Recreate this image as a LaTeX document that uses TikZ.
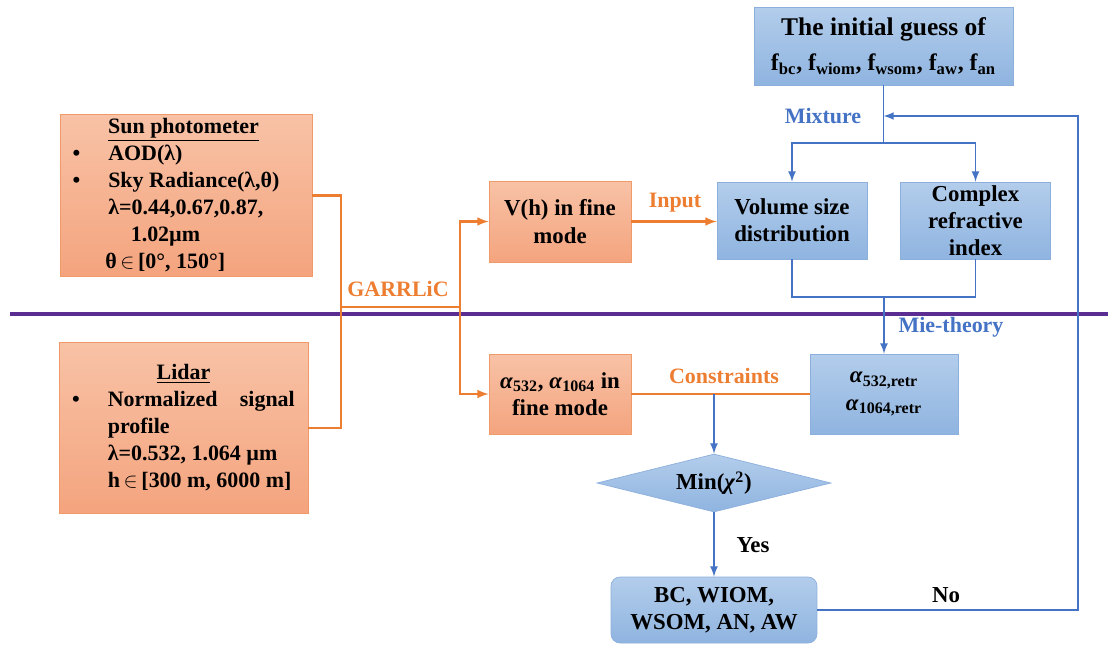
\documentclass[tikz,border=0pt]{standalone}
\usepackage{fontspec}
\setmainfont{Liberation Serif}
\usepackage{tikz}
\usetikzlibrary{positioning,shapes,arrows,calc}
\definecolor{linorange}{HTML}{ED7D31}
\definecolor{linblue}{HTML}{4472C4}
\definecolor{linpurple}{HTML}{5B2C91}
\definecolor{salmontop}{HTML}{F8C2A6}
\definecolor{salmonbot}{HTML}{F4A47E}
\definecolor{salmonedge}{HTML}{F09A68}
\definecolor{skytop}{HTML}{B3CDEB}
\definecolor{skybot}{HTML}{8FB4E0}
\definecolor{skyedge}{HTML}{8CAFDD}

\begin{document}
\begin{tikzpicture}[x=0.02cm, y=-0.02cm, >=latex,
      obox/.style={rectangle, draw=salmonedge, top color=salmontop, bottom color=salmonbot, align=center, inner sep=0pt, font=\bfseries\fontsize{13}{15.5}\selectfont},
      bbox/.style={rectangle, draw=skyedge, top color=skytop, bottom color=skybot, align=center, inner sep=0pt, font=\bfseries\fontsize{13}{15.5}\selectfont},
      oline/.style={draw=linorange, line width=1.2pt},
      bline/.style={draw=linblue, line width=1pt},
      olabel/.style={text=linorange, font=\bfseries\fontsize{12.5}{15}\selectfont},
      blabel/.style={text=linblue, font=\bfseries\fontsize{12.5}{15}\selectfont},
      klabel/.style={text=black, font=\bfseries\fontsize{13}{15}\selectfont}
      ]
      \useasboundingbox (0,0) rectangle (1108,666);
      \node[obox, minimum width=5.04cm, minimum height=3.22cm, font=\bfseries\fontsize{12.5}{15.3}\selectfont] (SUN) at (186,195.5) {%
        \begin{tabular}{@{}l@{\hspace{0.56cm}}l@{}}
        \multicolumn{2}{c}{\hspace{0.3cm}\underline{Sun photometer}}\\
        • & AOD(λ)\\
        • & Sky Radiance(λ,θ)\\
          & λ=0.44,0.67,0.87,\\
          & \hspace{0.45cm}1.02µm\\
          & \hspace{-0.06cm}θ\,$\in$\,[0°, 150°]
        \end{tabular}\hspace{0.4cm}};
      \node[obox, minimum width=4.98cm, minimum height=3.42cm, font=\bfseries\fontsize{12.5}{15.3}\selectfont] (LID) at (183.5,428) {%
        \begin{tabular}{@{}l@{\hspace{0.56cm}}p{3.74cm}@{}}
        \multicolumn{2}{c}{\underline{Lidar}}\\
        • & Normalized\hfill signal\\
          & profile\\
          & λ=0.532, 1.064 µm\\
          & h\,$\in$\,[300 m, 6000 m]
        \end{tabular}};
      \node[obox, minimum width=2.84cm, minimum height=1.62cm] (VH) at (560,221.5) {V(h) in fine\\mode};
      \node[obox, minimum width=2.84cm, minimum height=1.6cm] (ALP) at (560,394) {\textit{α}\textsubscript{532}, \textit{α}\textsubscript{1064} in\\fine mode};
      \node[bbox, minimum width=5.18cm, minimum height=1.56cm, font=\bfseries\fontsize{14.5}{17}\selectfont] (GUE) at (883.5,46) {The initial guess of\\[3pt]{\fontsize{13.5}{16}\selectfont f\textsubscript{bc}, f\textsubscript{wiom}, f\textsubscript{wsom}, f\textsubscript{aw}, f\textsubscript{an}}};
      \node[bbox, minimum width=3cm, minimum height=1.54cm] (VSD) at (792,220.5) {Volume size\\distribution};
      \node[bbox, minimum width=3cm, minimum height=1.54cm] (CRI) at (975.5,220.5) {Complex\\refractive\\index};
      \node[bbox, minimum width=2.96cm, minimum height=1.6cm] (RET) at (884,394) {\textit{α}\textsubscript{532,retr}\\\textit{α}\textsubscript{1064,retr}};
      \node[bbox, diamond, aspect=4, minimum width=4.68cm, minimum height=1.16cm] (MIN) at (714,483) {Min(\textit{χ}\textsuperscript{2})};
      \node[bbox, rounded corners=0.18cm, minimum width=4.12cm, minimum height=1.32cm] (RES) at (714,610) {BC, WIOM,\\WSOM, AN, AW};
      \coordinate (GAR) at (341,307);
      \coordinate (SPL) at (460,307);
      \coordinate (MIX) at (883.5,143);
      \coordinate (MIE) at (884,297);
      \coordinate (CON) at (714,394);
      \coordinate (BCK) at (1078,116);
      \draw[linpurple, line width=2.2pt] (10,314) -- (1108,314);
      \draw[oline] (SUN.east) -| (GAR);
      \draw[oline] (LID.east) -| (GAR) -- (SPL);
      \draw[oline,->] (SPL) |- (VH.west);
      \draw[oline,->] (SPL) |- (ALP.west);
      \node[olabel] (GARL) at (398,289) {GARRLiC};
      \draw[oline,->] (VH.east) -- (VH.east -| VSD.west);
      \node[olabel] (INP) at (675,203) {Input};
      \draw[oline] (ALP.east) -- (RET.west);
      \node[olabel] (CONL) at (724,376) {Constraints};
      \draw[bline] (GUE.south) -- (MIX);
      \draw[bline,->] (MIX) -| (VSD.north);
      \draw[bline,->] (MIX) -| (CRI.north);
      \node[blabel] (MIXL) at (823,116) {Mixture};
      \draw[bline] (VSD.south) |- (MIE) -| (CRI.south);
      \draw[bline,->] (MIE) -- (RET.north);
      \node[blabel] (MIEL) at (951,327) {Mie-theory};
      \draw[bline,->] (CON) -- (MIN.north);
      \draw[bline,->] (MIN.south) -- (RES.north);
      \node[klabel] (YES) at (753,545) {Yes};
      \draw[bline,->] (RES.east) -| (BCK) -- (BCK -| MIX);
      \node[klabel] (NO) at (946,595) {No};
    \end{tikzpicture}
\end{document}
